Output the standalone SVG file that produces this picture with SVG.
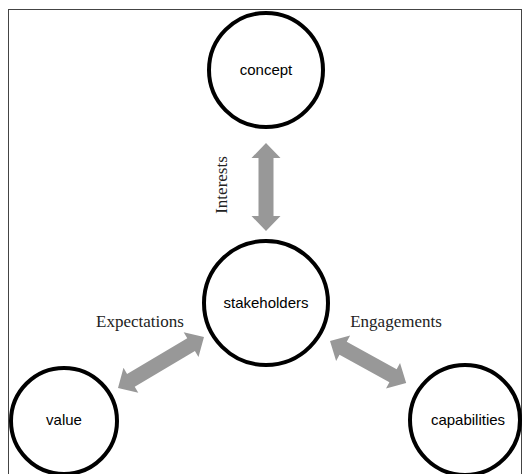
<svg xmlns="http://www.w3.org/2000/svg" width="524" height="474" viewBox="0 0 524 474">
<style>
.node{fill:#fff;stroke:#000;stroke-width:4}
.lbl{font-family:"Liberation Sans",Arial,sans-serif;font-size:15px;fill:#000;text-anchor:middle}
.edge{font-family:"Liberation Serif","Times New Roman",serif;font-size:17px;fill:#222;text-anchor:middle}
.arrow{fill:#989898}
</style>
<defs>
<polygon id="dbl88" points="0,0 15,-14.5 15,-7.5 73,-7.5 73,-14.5 88,0 73,14.5 73,7.5 15,7.5 15,14.5"/>
<polygon id="dbl100" points="0,0 15,-14.5 15,-7.5 85,-7.5 85,-14.5 100,0 85,14.5 85,7.5 15,7.5 15,14.5"/>
<polygon id="dbl87" points="0,0 15,-14.5 15,-7.5 72,-7.5 72,-14.5 87,0 72,14.5 72,7.5 15,7.5 15,14.5"/>
</defs>
<rect x="8.5" y="9.5" width="513" height="470" fill="#fff" stroke="#444" stroke-width="1"/>
<g id="connectors">
<use href="#dbl88" class="arrow" transform="translate(266,143) rotate(90)"/>
<use href="#dbl100" class="arrow" transform="translate(118,388) rotate(-30.7)"/>
<use href="#dbl87" class="arrow" transform="translate(330,341) rotate(28.9)"/>
<text class="edge" transform="translate(227,185) rotate(-90)">Interests</text>
<text class="edge" x="140" y="327">Expectations</text>
<text class="edge" x="396" y="327">Engagements</text>
</g>
<g id="concept">
<circle class="node" cx="266" cy="70" r="57"/>
<text class="lbl" x="266" y="75">concept</text>
</g>
<g id="stakeholders">
<circle class="node" cx="266" cy="303" r="62"/>
<text class="lbl" x="266" y="308">stakeholders</text>
</g>
<g id="value">
<circle class="node" cx="64" cy="421" r="53"/>
<text class="lbl" x="64" y="425">value</text>
</g>
<g id="capabilities">
<circle class="node" cx="465" cy="420" r="55"/>
<text class="lbl" x="468" y="425">capabilities</text>
</g>
</svg>
